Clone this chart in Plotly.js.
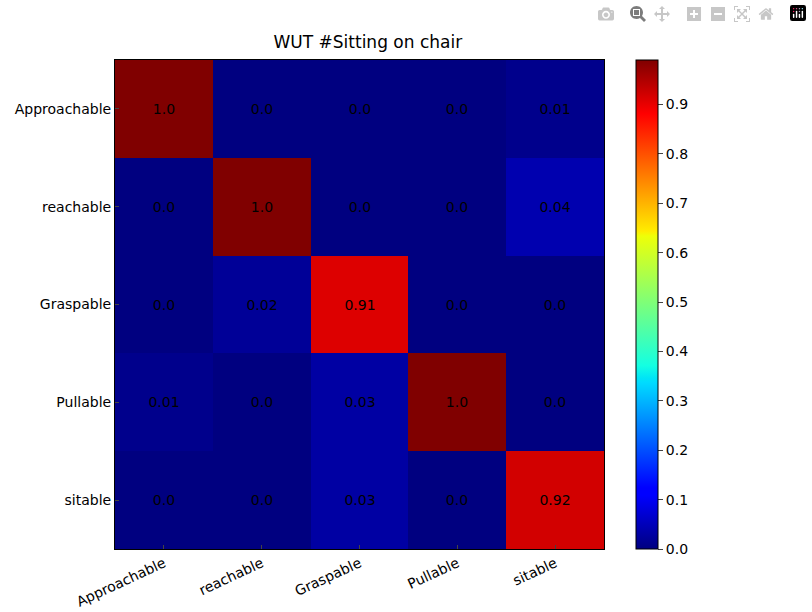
<!DOCTYPE html>
<html>
<head>
<meta charset="utf-8">
<script src="https://cdn.plot.ly/plotly-3.0.1.min.js"></script>
<style>body{margin:0;background:#fff}</style>
</head>
<body>
<div id="chart" style="width:812px;height:612px"></div>
<script>
// confusion matrix values (rows = true class, cols = predicted)
var labels = ['Approachable', 'reachable', 'Graspable', 'Pullable', 'sitable'];
var rowApproachable = [1.0, 0.0, 0.0, 0.0, 0.01];
var rowReachable = [0.0, 1.0, 0.0, 0.0, 0.04];
var rowGraspable = [0.0, 0.02, 0.91, 0.0, 0.0];
var rowPullable = [0.01, 0.0, 0.03, 1.0, 0.0];
var rowSitable = [0.0, 0.0, 0.03, 0.0, 0.92];
var textApproachable = ['1.0', '0.0', '0.0', '0.0', '0.01'];
var textReachable = ['0.0', '1.0', '0.0', '0.0', '0.04'];
var textGraspable = ['0.0', '0.02', '0.91', '0.0', '0.0'];
var textPullable = ['0.01', '0.0', '0.03', '1.0', '0.0'];
var textSitable = ['0.0', '0.0', '0.03', '0.0', '0.92'];

var z = [rowApproachable, rowReachable, rowGraspable, rowPullable, rowSitable];
var txt = [textApproachable, textReachable, textGraspable, textPullable, textSitable];

// matplotlib "jet"
var jet = [
    [0, 'rgb(0,0,128)'], [0.11, 'rgb(0,0,255)'], [0.125, 'rgb(0,0,255)'],
    [0.34, 'rgb(0,219,255)'], [0.35, 'rgb(0,229,246)'], [0.375, 'rgb(20,255,226)'],
    [0.64, 'rgb(238,255,8)'], [0.65, 'rgb(255,236,0)'], [0.66, 'rgb(255,226,0)'],
    [0.89, 'rgb(255,0,0)'], [0.91, 'rgb(232,0,0)'], [1, 'rgb(128,0,0)']
];

var font = {family: 'DejaVu Sans', size: 14, color: '#000'};

Plotly.newPlot('chart', [{
    type: 'heatmap',
    z: z, x: labels, y: labels,
    text: txt, texttemplate: '%{text}', textfont: font,
    colorscale: jet, zmin: 0, zmax: 0.99,
    xgap: 0, ygap: 0,
    colorbar: {
        x: 1.065, xanchor: 'left', xpad: 0, ypad: 0,
        y: 0, yanchor: 'bottom', len: 1, lenmode: 'fraction',
        thickness: 22, outlinewidth: 1, outlinecolor: '#000',
        tickvals: [0, 0.1, 0.2, 0.3, 0.4, 0.5, 0.6, 0.7, 0.8, 0.9],
        ticktext: ['0.0', '0.1', '0.2', '0.3', '0.4', '0.5', '0.6', '0.7', '0.8', '0.9'],
        ticks: 'outside', ticklen: 5, tickfont: font
    }
}], {
    width: 812, height: 612,
    margin: {l: 115, r: 208, t: 60, b: 63},
    paper_bgcolor: '#fff', plot_bgcolor: '#fff',
    font: font,
    title: {text: 'WUT #Sitting on chair', font: {family: 'DejaVu Sans', size: 17, color: '#000'},
            x: 0.453, xanchor: 'center', y: 0.922, yanchor: 'bottom'},
    xaxis: {showline: true, mirror: true, linecolor: '#000', ticks: 'inside', ticklen: 4,
            tickangle: -25, tickfont: font, showgrid: false, zeroline: false},
    yaxis: {showline: true, mirror: true, linecolor: '#000', ticks: 'inside', ticklen: 4,
            autorange: 'reversed', tickfont: font, showgrid: false, zeroline: false}
});
</script>
</body>
</html>
